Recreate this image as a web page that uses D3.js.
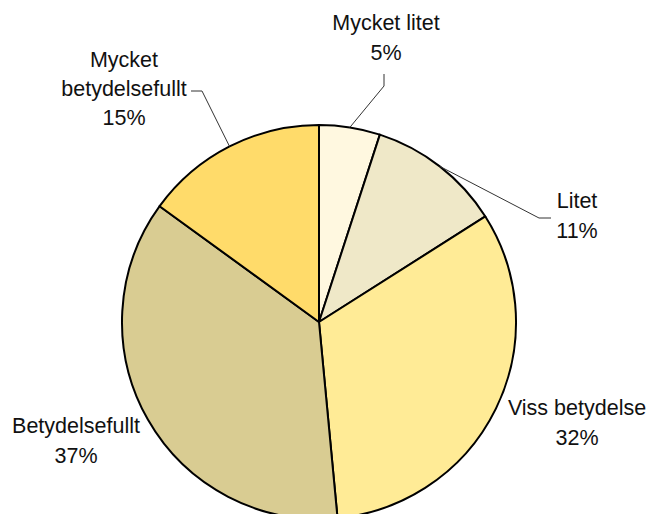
<!DOCTYPE html>
<html><head><meta charset="utf-8">
<script src="https://cdn.jsdelivr.net/npm/d3@7"></script>
<style>body{margin:0;background:#fff}svg{display:block}</style>
</head><body>
<svg id="chart" width="653" height="514"></svg>
<script>
const categories = ["Mycket litet", "Litet", "Viss betydelse", "Betydelsefullt", "Mycket betydelsefullt"];
const values = [5, 11, 32.5, 36.5, 15];
const percentLabels = ["5%", "11%", "32%", "37%", "15%"];
const colors = ["#FFF8E0", "#EFE8C8", "#FFEB96", "#D9CC92", "#FFDB6A"];

// label layout (text lines, anchor x, first baseline y, leader polyline end)
const labelLayout = [
  {lines: ["Mycket litet"], x: 386, y: 30, leader: [[384, 86], [384, 74]]},
  {lines: ["Litet"], x: 577, y: 208, leader: [[539, 218], [551, 218]]},
  {lines: ["Viss betydelse"], x: 577, y: 415, leader: null},
  {lines: ["Betydelsefullt"], x: 76, y: 433, leader: null},
  {lines: ["Mycket", "betydelsefullt"], x: 124, y: 67, leader: [[202, 91], [191, 91]]}
];

const svg = d3.select("#chart");
const cx = 319, cy = 322, r = 197;
const g = svg.append("g").attr("transform", `translate(${cx},${cy})`);
const pie = d3.pie().sort(null).value(d => d)(values);
const arc = d3.arc().innerRadius(0).outerRadius(r);

g.selectAll("path.slice").data(pie).enter().append("path")
  .attr("class", "slice")
  .attr("d", arc)
  .attr("fill", (d, i) => colors[i])
  .attr("stroke", "#000")
  .attr("stroke-width", 2)
  .attr("stroke-linejoin", "round");

// leader lines
pie.forEach((d, i) => {
  const L = labelLayout[i];
  if (!L.leader) return;
  const mid = (d.startAngle + d.endAngle) / 2;
  const p0 = [cx + r * Math.sin(mid), cy - r * Math.cos(mid)];
  const pts = [p0].concat(L.leader);
  svg.append("polyline")
    .attr("points", pts.map(p => p.join(",")).join(" "))
    .attr("fill", "none")
    .attr("stroke", "#333")
    .attr("stroke-width", 1);
});

// labels
pie.forEach((d, i) => {
  const L = labelLayout[i];
  const t = svg.append("text")
    .attr("text-anchor", "middle")
    .attr("font-family", "Liberation Sans, Arial, sans-serif")
    .attr("font-size", 21.5)
    .attr("fill", "#111");
  const lines = L.lines.concat([percentLabels[i]]);
  lines.forEach((s, j) => {
    t.append("tspan").attr("x", L.x).attr("y", L.y + j * (L.lines.length > 1 ? 29 : 30)).text(s);
  });
});
</script>
</body></html>
